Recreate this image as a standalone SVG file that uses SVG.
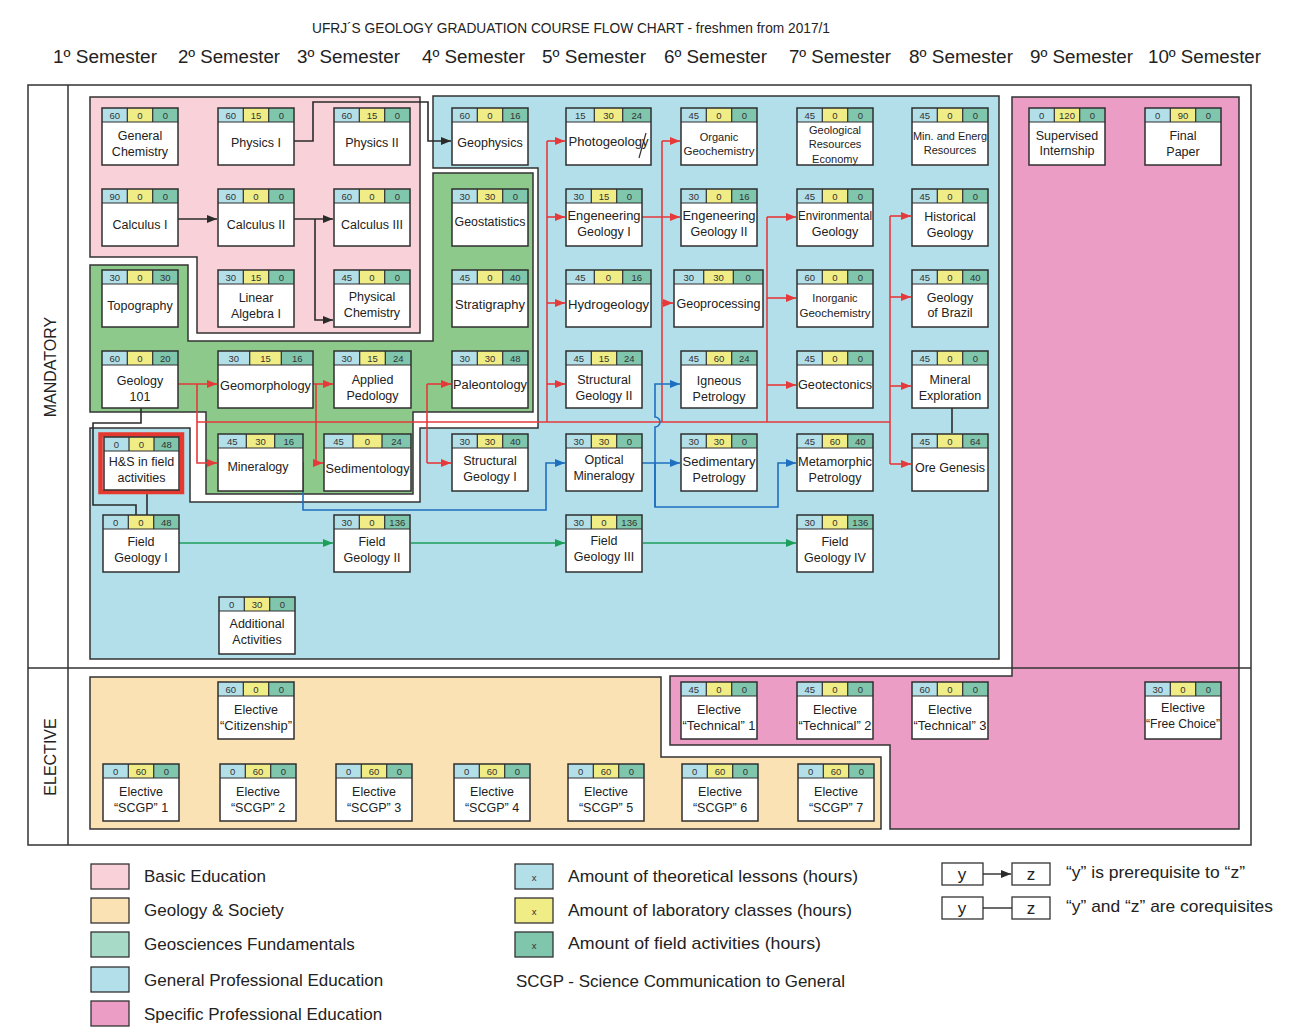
<svg xmlns="http://www.w3.org/2000/svg" width="1290" height="1032" viewBox="0 0 1290 1032">
<style>
.c1{fill:#b3dfe9}.c2{fill:#f0ec86}.c3{fill:#7fc6ad}
.bd{fill:#fff}
.fr{fill:none;stroke:#2f2f2f;stroke-width:1.5}
.sep{fill:none;stroke:#2f2f2f;stroke-width:1.2}
.num{font-family:"Liberation Sans",Arial,sans-serif;font-size:9.5px;fill:#333;text-anchor:middle}
.lb{font-family:"Liberation Sans",Arial,sans-serif;font-size:12.5px;fill:#222;text-anchor:middle}
.sm{font-size:11px}
.reg{stroke:#333;stroke-width:1.5}
.frame{fill:none;stroke:#333;stroke-width:1.5}
.k{stroke:#2b2b2b}.r{stroke:#e5393a}.b{stroke:#1f6fc0}.g{stroke:#1d9e5a}
.hd{font-family:"Liberation Sans",Arial,sans-serif;font-size:18px;fill:#222}
.lg{font-family:"Liberation Sans",Arial,sans-serif;font-size:17px;fill:#222}
.sw{stroke:#333;stroke-width:1.3}
</style>
<defs>
<marker id="ak" markerUnits="userSpaceOnUse" markerWidth="10" markerHeight="8" refX="10" refY="4" orient="auto"><path d="M0,0L10,4L0,8Z" fill="#2b2b2b"/></marker>
<marker id="ar" markerUnits="userSpaceOnUse" markerWidth="10" markerHeight="8" refX="10" refY="4" orient="auto"><path d="M0,0L10,4L0,8Z" fill="#e5393a"/></marker>
<marker id="ab" markerUnits="userSpaceOnUse" markerWidth="10" markerHeight="8" refX="10" refY="4" orient="auto"><path d="M0,0L10,4L0,8Z" fill="#1f6fc0"/></marker>
<marker id="ag" markerUnits="userSpaceOnUse" markerWidth="10" markerHeight="8" refX="10" refY="4" orient="auto"><path d="M0,0L10,4L0,8Z" fill="#1d9e5a"/></marker>
</defs>
<rect width="1290" height="1032" fill="#fff"/>
<text x="571" y="33" text-anchor="middle" font-family="Liberation Sans, Arial, sans-serif" font-size="15" fill="#222" textLength="518" lengthAdjust="spacingAndGlyphs">UFRJ´S GEOLOGY GRADUATION COURSE FLOW CHART - freshmen from 2017/1</text>
<g id="semesters">
<text class="hd" x="53" y="63" textLength="104" lengthAdjust="spacingAndGlyphs">1º Semester</text>
<text class="hd" x="178" y="63" textLength="102" lengthAdjust="spacingAndGlyphs">2º Semester</text>
<text class="hd" x="297" y="63" textLength="103" lengthAdjust="spacingAndGlyphs">3º Semester</text>
<text class="hd" x="422" y="63" textLength="103" lengthAdjust="spacingAndGlyphs">4º Semester</text>
<text class="hd" x="542" y="63" textLength="104" lengthAdjust="spacingAndGlyphs">5º Semester</text>
<text class="hd" x="664" y="63" textLength="103" lengthAdjust="spacingAndGlyphs">6º Semester</text>
<text class="hd" x="789" y="63" textLength="102" lengthAdjust="spacingAndGlyphs">7º Semester</text>
<text class="hd" x="909" y="63" textLength="104" lengthAdjust="spacingAndGlyphs">8º Semester</text>
<text class="hd" x="1030" y="63" textLength="103" lengthAdjust="spacingAndGlyphs">9º Semester</text>
<text class="hd" x="1148" y="63" textLength="113" lengthAdjust="spacingAndGlyphs">10º Semester</text>
</g>
<g id="regions">
<path id="reg-general-professional" class="reg" fill="#b3dfea" d="M433,96H999V659H90V428H190V502H420V428H538V168H433Z"/>
<path id="reg-basic" class="reg" fill="#f8d2d8" d="M90,97H420V333H197V257H90Z"/>
<path id="reg-geosciences" class="reg" fill="#8dc98b" d="M90,265H188V341H433V173H533V412H413V494H206V412H90Z"/>
<path id="reg-specific" class="reg" fill="#eb9dc6" d="M1012,97H1239V829H890V745H670V676H1012Z"/>
<path id="reg-society" class="reg" fill="#fbe2b4" d="M90,677H661V757H881V829H90Z"/>
</g>
<g id="frame">
<rect class="frame" x="28" y="85" width="1223" height="760"/>
<path class="frame" d="M28,668H1251M68,85V845"/>
<text transform="translate(56,367) rotate(-90)" text-anchor="middle" font-family="Liberation Sans, Arial, sans-serif" font-size="16" fill="#222">MANDATORY</text>
<text transform="translate(56,757) rotate(-90)" text-anchor="middle" font-family="Liberation Sans, Arial, sans-serif" font-size="16" fill="#222">ELECTIVE</text>
</g>
<g id="connectors" fill="none" stroke-width="1.6">
<path class="k" d="M294,141H313V102H428V141H451" marker-end="url(#ak)"/>
<path class="k" d="M178,219H217" marker-end="url(#ak)"/>
<path class="k" d="M294,219H333" marker-end="url(#ak)"/>
<path class="k" d="M315,219V320H333" marker-end="url(#ak)"/>
<path class="k" d="M952,408V433"/>
<path class="k" d="M147,490V515"/>
<path class="k" d="M141,408V423H93V505H136V515"/>
<path class="r" d="M197,422H890"/>
<path class="r" d="M178,384H217" marker-end="url(#ar)"/>
<path class="r" d="M197,384V463H217" marker-end="url(#ar)"/>
<path class="r" d="M313,384H333" marker-end="url(#ar)"/>
<path class="r" d="M316,384V463H323" marker-end="url(#ar)"/>
<path class="r" d="M427,384V463"/>
<path class="r" d="M427,384H451" marker-end="url(#ar)"/>
<path class="r" d="M427,463H451" marker-end="url(#ar)"/>
<path class="r" d="M547,141V422"/>
<path class="r" d="M547,141H565" marker-end="url(#ar)"/>
<path class="r" d="M547,217H565" marker-end="url(#ar)"/>
<path class="r" d="M547,303H565" marker-end="url(#ar)"/>
<path class="r" d="M547,384H565" marker-end="url(#ar)"/>
<path class="r" d="M642,217H680" marker-end="url(#ar)"/>
<path class="r" d="M662,141V422"/>
<path class="r" d="M662,141H680" marker-end="url(#ar)"/>
<path class="r" d="M662,303H673" marker-end="url(#ar)"/>
<path class="r" d="M767,217V422"/>
<path class="r" d="M767,217H796" marker-end="url(#ar)"/>
<path class="r" d="M767,298H796" marker-end="url(#ar)"/>
<path class="r" d="M767,385H796" marker-end="url(#ar)"/>
<path class="r" d="M890,216V464"/>
<path class="r" d="M890,216H911" marker-end="url(#ar)"/>
<path class="r" d="M890,297H911" marker-end="url(#ar)"/>
<path class="r" d="M890,386H911" marker-end="url(#ar)"/>
<path class="r" d="M890,464H911" marker-end="url(#ar)"/>
<path class="b" d="M296,463H303V510H546V463H565" marker-end="url(#ab)"/>
<path class="b" d="M642,463H680" marker-end="url(#ab)"/>
<path class="b" d="M655,507V427A5,5 0 0 0 655,417V384H680" marker-end="url(#ab)"/>
<path class="b" d="M655,463V507H778V463H796" marker-end="url(#ab)"/>
<path class="g" d="M179,543H333" marker-end="url(#ag)"/>
<path class="g" d="M411,543H565" marker-end="url(#ag)"/>
<path class="g" d="M643,543H796" marker-end="url(#ag)"/>
</g>
<rect x="100.5" y="434.5" width="81.5" height="57.5" fill="none" stroke="#e5392f" stroke-width="4.5"/>
<g id="nodes">
<g id="n-general-chemistry" transform="translate(102,108)"><rect class="c1" width="25.3" height="14"/><rect class="c2" x="25.3" width="25.4" height="14"/><rect class="c3" x="50.7" width="25.3" height="14"/><rect class="bd" y="14" width="76" height="43"/><path class="sep" d="M0,14H76M25.3,0V14M50.7,0V14"/><rect class="fr" width="76" height="57"/><text class="num" x="12.7" y="11">60</text><text class="num" x="38" y="11">0</text><text class="num" x="63.3" y="11">0</text><text class="lb" x="38" y="32">General</text><text class="lb" x="38" y="48">Chemistry</text></g>
<g id="n-physics-1" transform="translate(218,108)"><rect class="c1" width="25.3" height="14"/><rect class="c2" x="25.3" width="25.4" height="14"/><rect class="c3" x="50.7" width="25.3" height="14"/><rect class="bd" y="14" width="76" height="43"/><path class="sep" d="M0,14H76M25.3,0V14M50.7,0V14"/><rect class="fr" width="76" height="57"/><text class="num" x="12.7" y="11">60</text><text class="num" x="38" y="11">15</text><text class="num" x="63.3" y="11">0</text><text class="lb" x="38" y="39">Physics I</text></g>
<g id="n-physics-2" transform="translate(334,108)"><rect class="c1" width="25.3" height="14"/><rect class="c2" x="25.3" width="25.4" height="14"/><rect class="c3" x="50.7" width="25.3" height="14"/><rect class="bd" y="14" width="76" height="43"/><path class="sep" d="M0,14H76M25.3,0V14M50.7,0V14"/><rect class="fr" width="76" height="57"/><text class="num" x="12.7" y="11">60</text><text class="num" x="38" y="11">15</text><text class="num" x="63.3" y="11">0</text><text class="lb" x="38" y="39">Physics II</text></g>
<g id="n-geophysics" transform="translate(452,108)"><rect class="c1" width="25.3" height="14"/><rect class="c2" x="25.3" width="25.4" height="14"/><rect class="c3" x="50.7" width="25.3" height="14"/><rect class="bd" y="14" width="76" height="43"/><path class="sep" d="M0,14H76M25.3,0V14M50.7,0V14"/><rect class="fr" width="76" height="57"/><text class="num" x="12.7" y="11">60</text><text class="num" x="38" y="11">0</text><text class="num" x="63.3" y="11">16</text><text class="lb" x="38" y="39">Geophysics</text></g>
<g id="n-photogeology" transform="translate(566,108)"><rect class="c1" width="28.3" height="14"/><rect class="c2" x="28.3" width="28.4" height="14"/><rect class="c3" x="56.7" width="28.3" height="14"/><rect class="bd" y="14" width="85" height="43"/><path class="sep" d="M0,14H85M28.3,0V14M56.7,0V14"/><rect class="fr" width="85" height="57"/><text class="num" x="14.2" y="11">15</text><text class="num" x="42.5" y="11">30</text><text class="num" x="70.8" y="11">24</text><text class="lb" x="42.5" y="38" textLength="80" lengthAdjust="spacingAndGlyphs">Photogeology</text><path d="M73,50L80,25" stroke="#333" stroke-width="1.2" fill="none"/></g>
<g id="n-organic-geochemistry" transform="translate(681,108)"><rect class="c1" width="25.3" height="14"/><rect class="c2" x="25.3" width="25.4" height="14"/><rect class="c3" x="50.7" width="25.3" height="14"/><rect class="bd" y="14" width="76" height="43"/><path class="sep" d="M0,14H76M25.3,0V14M50.7,0V14"/><rect class="fr" width="76" height="57"/><text class="num" x="12.7" y="11">45</text><text class="num" x="38" y="11">0</text><text class="num" x="63.3" y="11">0</text><text class="lb sm" x="38" y="33">Organic</text><text class="lb sm" x="38" y="47" textLength="71" lengthAdjust="spacingAndGlyphs">Geochemistry</text></g>
<g id="n-geological-resources-economy" transform="translate(797,108)"><rect class="c1" width="25.3" height="14"/><rect class="c2" x="25.3" width="25.4" height="14"/><rect class="c3" x="50.7" width="25.3" height="14"/><rect class="bd" y="14" width="76" height="43"/><path class="sep" d="M0,14H76M25.3,0V14M50.7,0V14"/><rect class="fr" width="76" height="57"/><text class="num" x="12.7" y="11">45</text><text class="num" x="38" y="11">0</text><text class="num" x="63.3" y="11">0</text><text class="lb sm" x="38" y="26">Geological</text><text class="lb sm" x="38" y="40">Resources</text><text class="lb sm" x="38" y="55">Economy</text></g>
<g id="n-min-energ-resources" transform="translate(912,108)"><rect class="c1" width="25.3" height="14"/><rect class="c2" x="25.3" width="25.4" height="14"/><rect class="c3" x="50.7" width="25.3" height="14"/><rect class="bd" y="14" width="76" height="43"/><path class="sep" d="M0,14H76M25.3,0V14M50.7,0V14"/><rect class="fr" width="76" height="57"/><text class="num" x="12.7" y="11">45</text><text class="num" x="38" y="11">0</text><text class="num" x="63.3" y="11">0</text><text class="lb sm" x="38" y="32" textLength="74" lengthAdjust="spacingAndGlyphs">Min. and Energ</text><text class="lb sm" x="38" y="46">Resources</text></g>
<g id="n-supervised-internship" transform="translate(1029,108)"><rect class="c1" width="25.3" height="14"/><rect class="c2" x="25.3" width="25.4" height="14"/><rect class="c3" x="50.7" width="25.3" height="14"/><rect class="bd" y="14" width="76" height="43"/><path class="sep" d="M0,14H76M25.3,0V14M50.7,0V14"/><rect class="fr" width="76" height="57"/><text class="num" x="12.7" y="11">0</text><text class="num" x="38" y="11">120</text><text class="num" x="63.3" y="11">0</text><text class="lb" x="38" y="32">Supervised</text><text class="lb" x="38" y="47">Internship</text></g>
<g id="n-final-paper" transform="translate(1145,108)"><rect class="c1" width="25.3" height="14"/><rect class="c2" x="25.3" width="25.4" height="14"/><rect class="c3" x="50.7" width="25.3" height="14"/><rect class="bd" y="14" width="76" height="43"/><path class="sep" d="M0,14H76M25.3,0V14M50.7,0V14"/><rect class="fr" width="76" height="57"/><text class="num" x="12.7" y="11">0</text><text class="num" x="38" y="11">90</text><text class="num" x="63.3" y="11">0</text><text class="lb" x="38" y="32">Final</text><text class="lb" x="38" y="48">Paper</text></g>

<g id="n-calculus-1" transform="translate(102,189)"><rect class="c1" width="25.3" height="14"/><rect class="c2" x="25.3" width="25.4" height="14"/><rect class="c3" x="50.7" width="25.3" height="14"/><rect class="bd" y="14" width="76" height="43"/><path class="sep" d="M0,14H76M25.3,0V14M50.7,0V14"/><rect class="fr" width="76" height="57"/><text class="num" x="12.7" y="11">90</text><text class="num" x="38" y="11">0</text><text class="num" x="63.3" y="11">0</text><text class="lb" x="38" y="40">Calculus I</text></g>
<g id="n-calculus-2" transform="translate(218,189)"><rect class="c1" width="25.3" height="14"/><rect class="c2" x="25.3" width="25.4" height="14"/><rect class="c3" x="50.7" width="25.3" height="14"/><rect class="bd" y="14" width="76" height="43"/><path class="sep" d="M0,14H76M25.3,0V14M50.7,0V14"/><rect class="fr" width="76" height="57"/><text class="num" x="12.7" y="11">60</text><text class="num" x="38" y="11">0</text><text class="num" x="63.3" y="11">0</text><text class="lb" x="38" y="40">Calculus II</text></g>
<g id="n-calculus-3" transform="translate(334,189)"><rect class="c1" width="25.3" height="14"/><rect class="c2" x="25.3" width="25.4" height="14"/><rect class="c3" x="50.7" width="25.3" height="14"/><rect class="bd" y="14" width="76" height="43"/><path class="sep" d="M0,14H76M25.3,0V14M50.7,0V14"/><rect class="fr" width="76" height="57"/><text class="num" x="12.7" y="11">60</text><text class="num" x="38" y="11">0</text><text class="num" x="63.3" y="11">0</text><text class="lb" x="38" y="40">Calculus III</text></g>
<g id="n-geostatistics" transform="translate(452,189)"><rect class="c1" width="25.3" height="14"/><rect class="c2" x="25.3" width="25.4" height="14"/><rect class="c3" x="50.7" width="25.3" height="14"/><rect class="bd" y="14" width="76" height="43"/><path class="sep" d="M0,14H76M25.3,0V14M50.7,0V14"/><rect class="fr" width="76" height="57"/><text class="num" x="12.7" y="11">30</text><text class="num" x="38" y="11">30</text><text class="num" x="63.3" y="11">0</text><text class="lb" x="38" y="37" textLength="71" lengthAdjust="spacingAndGlyphs">Geostatistics</text></g>
<g id="n-eng-geology-1" transform="translate(566,189)"><rect class="c1" width="25.3" height="14"/><rect class="c2" x="25.3" width="25.4" height="14"/><rect class="c3" x="50.7" width="25.3" height="14"/><rect class="bd" y="14" width="76" height="43"/><path class="sep" d="M0,14H76M25.3,0V14M50.7,0V14"/><rect class="fr" width="76" height="57"/><text class="num" x="12.7" y="11">30</text><text class="num" x="38" y="11">15</text><text class="num" x="63.3" y="11">0</text><text class="lb" x="38" y="31" textLength="73" lengthAdjust="spacingAndGlyphs">Engeneering</text><text class="lb" x="38" y="47">Geology I</text></g>
<g id="n-eng-geology-2" transform="translate(681,189)"><rect class="c1" width="25.3" height="14"/><rect class="c2" x="25.3" width="25.4" height="14"/><rect class="c3" x="50.7" width="25.3" height="14"/><rect class="bd" y="14" width="76" height="43"/><path class="sep" d="M0,14H76M25.3,0V14M50.7,0V14"/><rect class="fr" width="76" height="57"/><text class="num" x="12.7" y="11">30</text><text class="num" x="38" y="11">0</text><text class="num" x="63.3" y="11">16</text><text class="lb" x="38" y="31" textLength="73" lengthAdjust="spacingAndGlyphs">Engeneering</text><text class="lb" x="38" y="47">Geology II</text></g>
<g id="n-environmental-geology" transform="translate(797,189)"><rect class="c1" width="25.3" height="14"/><rect class="c2" x="25.3" width="25.4" height="14"/><rect class="c3" x="50.7" width="25.3" height="14"/><rect class="bd" y="14" width="76" height="43"/><path class="sep" d="M0,14H76M25.3,0V14M50.7,0V14"/><rect class="fr" width="76" height="57"/><text class="num" x="12.7" y="11">45</text><text class="num" x="38" y="11">0</text><text class="num" x="63.3" y="11">0</text><text class="lb" x="38" y="31" textLength="74" lengthAdjust="spacingAndGlyphs">Environmental</text><text class="lb" x="38" y="47">Geology</text></g>
<g id="n-historical-geology" transform="translate(912,189)"><rect class="c1" width="25.3" height="14"/><rect class="c2" x="25.3" width="25.4" height="14"/><rect class="c3" x="50.7" width="25.3" height="14"/><rect class="bd" y="14" width="76" height="43"/><path class="sep" d="M0,14H76M25.3,0V14M50.7,0V14"/><rect class="fr" width="76" height="57"/><text class="num" x="12.7" y="11">45</text><text class="num" x="38" y="11">0</text><text class="num" x="63.3" y="11">0</text><text class="lb" x="38" y="32">Historical</text><text class="lb" x="38" y="48">Geology</text></g>

<g id="n-topography" transform="translate(102,270)"><rect class="c1" width="25.3" height="14"/><rect class="c2" x="25.3" width="25.4" height="14"/><rect class="c3" x="50.7" width="25.3" height="14"/><rect class="bd" y="14" width="76" height="43"/><path class="sep" d="M0,14H76M25.3,0V14M50.7,0V14"/><rect class="fr" width="76" height="57"/><text class="num" x="12.7" y="11">30</text><text class="num" x="38" y="11">0</text><text class="num" x="63.3" y="11">30</text><text class="lb" x="38" y="40">Topography</text></g>
<g id="n-linear-algebra-1" transform="translate(218,270)"><rect class="c1" width="25.3" height="14"/><rect class="c2" x="25.3" width="25.4" height="14"/><rect class="c3" x="50.7" width="25.3" height="14"/><rect class="bd" y="14" width="76" height="43"/><path class="sep" d="M0,14H76M25.3,0V14M50.7,0V14"/><rect class="fr" width="76" height="57"/><text class="num" x="12.7" y="11">30</text><text class="num" x="38" y="11">15</text><text class="num" x="63.3" y="11">0</text><text class="lb" x="38" y="32">Linear</text><text class="lb" x="38" y="48">Algebra I</text></g>
<g id="n-physical-chemistry" transform="translate(334,270)"><rect class="c1" width="25.3" height="14"/><rect class="c2" x="25.3" width="25.4" height="14"/><rect class="c3" x="50.7" width="25.3" height="14"/><rect class="bd" y="14" width="76" height="43"/><path class="sep" d="M0,14H76M25.3,0V14M50.7,0V14"/><rect class="fr" width="76" height="57"/><text class="num" x="12.7" y="11">45</text><text class="num" x="38" y="11">0</text><text class="num" x="63.3" y="11">0</text><text class="lb" x="38" y="31">Physical</text><text class="lb" x="38" y="47">Chemistry</text></g>
<g id="n-stratigraphy" transform="translate(452,270)"><rect class="c1" width="25.3" height="14"/><rect class="c2" x="25.3" width="25.4" height="14"/><rect class="c3" x="50.7" width="25.3" height="14"/><rect class="bd" y="14" width="76" height="43"/><path class="sep" d="M0,14H76M25.3,0V14M50.7,0V14"/><rect class="fr" width="76" height="57"/><text class="num" x="12.7" y="11">45</text><text class="num" x="38" y="11">0</text><text class="num" x="63.3" y="11">40</text><text class="lb" x="38" y="39" textLength="70" lengthAdjust="spacingAndGlyphs">Stratigraphy</text></g>
<g id="n-hydrogeology" transform="translate(566,270)"><rect class="c1" width="28.3" height="14"/><rect class="c2" x="28.3" width="28.4" height="14"/><rect class="c3" x="56.7" width="28.3" height="14"/><rect class="bd" y="14" width="85" height="43"/><path class="sep" d="M0,14H85M28.3,0V14M56.7,0V14"/><rect class="fr" width="85" height="57"/><text class="num" x="14.2" y="11">45</text><text class="num" x="42.5" y="11">0</text><text class="num" x="70.8" y="11">16</text><text class="lb" x="42.5" y="39" textLength="81" lengthAdjust="spacingAndGlyphs">Hydrogeology</text></g>
<g id="n-geoprocessing" transform="translate(674,270)"><rect class="c1" width="29.7" height="14"/><rect class="c2" x="29.7" width="29.6" height="14"/><rect class="c3" x="59.3" width="29.7" height="14"/><rect class="bd" y="14" width="89" height="43"/><path class="sep" d="M0,14H89M29.7,0V14M59.3,0V14"/><rect class="fr" width="89" height="57"/><text class="num" x="14.8" y="11">30</text><text class="num" x="44.5" y="11">30</text><text class="num" x="74.2" y="11">0</text><text class="lb" x="44.5" y="38" textLength="84" lengthAdjust="spacingAndGlyphs">Geoprocessing</text></g>
<g id="n-inorganic-geochemistry" transform="translate(797,270)"><rect class="c1" width="25.3" height="14"/><rect class="c2" x="25.3" width="25.4" height="14"/><rect class="c3" x="50.7" width="25.3" height="14"/><rect class="bd" y="14" width="76" height="43"/><path class="sep" d="M0,14H76M25.3,0V14M50.7,0V14"/><rect class="fr" width="76" height="57"/><text class="num" x="12.7" y="11">60</text><text class="num" x="38" y="11">0</text><text class="num" x="63.3" y="11">0</text><text class="lb sm" x="38" y="32">Inorganic</text><text class="lb sm" x="38" y="47" textLength="71" lengthAdjust="spacingAndGlyphs">Geochemistry</text></g>
<g id="n-geology-of-brazil" transform="translate(912,270)"><rect class="c1" width="25.3" height="14"/><rect class="c2" x="25.3" width="25.4" height="14"/><rect class="c3" x="50.7" width="25.3" height="14"/><rect class="bd" y="14" width="76" height="43"/><path class="sep" d="M0,14H76M25.3,0V14M50.7,0V14"/><rect class="fr" width="76" height="57"/><text class="num" x="12.7" y="11">45</text><text class="num" x="38" y="11">0</text><text class="num" x="63.3" y="11">40</text><text class="lb" x="38" y="32">Geology</text><text class="lb" x="38" y="47">of Brazil</text></g>

<g id="n-geology-101" transform="translate(102,351)"><rect class="c1" width="25.3" height="14"/><rect class="c2" x="25.3" width="25.4" height="14"/><rect class="c3" x="50.7" width="25.3" height="14"/><rect class="bd" y="14" width="76" height="43"/><path class="sep" d="M0,14H76M25.3,0V14M50.7,0V14"/><rect class="fr" width="76" height="57"/><text class="num" x="12.7" y="11">60</text><text class="num" x="38" y="11">0</text><text class="num" x="63.3" y="11">20</text><text class="lb" x="38" y="34">Geology</text><text class="lb" x="38" y="50">101</text></g>
<g id="n-geomorphology" transform="translate(218,351)"><rect class="c1" width="31.7" height="14"/><rect class="c2" x="31.7" width="31.6" height="14"/><rect class="c3" x="63.3" width="31.7" height="14"/><rect class="bd" y="14" width="95" height="43"/><path class="sep" d="M0,14H95M31.7,0V14M63.3,0V14"/><rect class="fr" width="95" height="57"/><text class="num" x="15.8" y="11">30</text><text class="num" x="47.5" y="11">15</text><text class="num" x="79.2" y="11">16</text><text class="lb" x="47.5" y="39" textLength="91" lengthAdjust="spacingAndGlyphs">Geomorphology</text></g>
<g id="n-applied-pedology" transform="translate(334,351)"><rect class="c1" width="25.7" height="14"/><rect class="c2" x="25.7" width="25.6" height="14"/><rect class="c3" x="51.3" width="25.7" height="14"/><rect class="bd" y="14" width="77" height="43"/><path class="sep" d="M0,14H77M25.7,0V14M51.3,0V14"/><rect class="fr" width="77" height="57"/><text class="num" x="12.8" y="11">30</text><text class="num" x="38.5" y="11">15</text><text class="num" x="64.2" y="11">24</text><text class="lb" x="38.5" y="33">Applied</text><text class="lb" x="38.5" y="49">Pedology</text></g>
<g id="n-paleontology" transform="translate(452,351)"><rect class="c1" width="25.3" height="14"/><rect class="c2" x="25.3" width="25.4" height="14"/><rect class="c3" x="50.7" width="25.3" height="14"/><rect class="bd" y="14" width="76" height="43"/><path class="sep" d="M0,14H76M25.3,0V14M50.7,0V14"/><rect class="fr" width="76" height="57"/><text class="num" x="12.7" y="11">30</text><text class="num" x="38" y="11">30</text><text class="num" x="63.3" y="11">48</text><text class="lb" x="38" y="38" textLength="74" lengthAdjust="spacingAndGlyphs">Paleontology</text></g>
<g id="n-structural-geology-2" transform="translate(566,351)"><rect class="c1" width="25.3" height="14"/><rect class="c2" x="25.3" width="25.4" height="14"/><rect class="c3" x="50.7" width="25.3" height="14"/><rect class="bd" y="14" width="76" height="43"/><path class="sep" d="M0,14H76M25.3,0V14M50.7,0V14"/><rect class="fr" width="76" height="57"/><text class="num" x="12.7" y="11">45</text><text class="num" x="38" y="11">15</text><text class="num" x="63.3" y="11">24</text><text class="lb" x="38" y="33">Structural</text><text class="lb" x="38" y="49">Geology II</text></g>
<g id="n-igneous-petrology" transform="translate(681,351)"><rect class="c1" width="25.3" height="14"/><rect class="c2" x="25.3" width="25.4" height="14"/><rect class="c3" x="50.7" width="25.3" height="14"/><rect class="bd" y="14" width="76" height="43"/><path class="sep" d="M0,14H76M25.3,0V14M50.7,0V14"/><rect class="fr" width="76" height="57"/><text class="num" x="12.7" y="11">45</text><text class="num" x="38" y="11">60</text><text class="num" x="63.3" y="11">24</text><text class="lb" x="38" y="34">Igneous</text><text class="lb" x="38" y="50">Petrology</text></g>
<g id="n-geotectonics" transform="translate(797,351)"><rect class="c1" width="25.3" height="14"/><rect class="c2" x="25.3" width="25.4" height="14"/><rect class="c3" x="50.7" width="25.3" height="14"/><rect class="bd" y="14" width="76" height="43"/><path class="sep" d="M0,14H76M25.3,0V14M50.7,0V14"/><rect class="fr" width="76" height="57"/><text class="num" x="12.7" y="11">45</text><text class="num" x="38" y="11">0</text><text class="num" x="63.3" y="11">0</text><text class="lb" x="38" y="38" textLength="74" lengthAdjust="spacingAndGlyphs">Geotectonics</text></g>
<g id="n-mineral-exploration" transform="translate(912,351)"><rect class="c1" width="25.3" height="14"/><rect class="c2" x="25.3" width="25.4" height="14"/><rect class="c3" x="50.7" width="25.3" height="14"/><rect class="bd" y="14" width="76" height="43"/><path class="sep" d="M0,14H76M25.3,0V14M50.7,0V14"/><rect class="fr" width="76" height="57"/><text class="num" x="12.7" y="11">45</text><text class="num" x="38" y="11">0</text><text class="num" x="63.3" y="11">0</text><text class="lb" x="38" y="33">Mineral</text><text class="lb" x="38" y="49">Exploration</text></g>

<g id="n-hs-field-activities" transform="translate(104,437)"><rect class="c1" width="25" height="14"/><rect class="c2" x="25" width="25" height="14"/><rect class="c3" x="50" width="25" height="14"/><rect class="bd" y="14" width="75" height="39"/><path class="sep" d="M0,14H75M25,0V14M50,0V14"/><rect class="fr" width="75" height="53"/><text class="num" x="12.5" y="11">0</text><text class="num" x="37.5" y="11">0</text><text class="num" x="62.5" y="11">48</text><text class="lb" x="37.5" y="29">H&amp;S in field</text><text class="lb" x="37.5" y="45">activities</text></g>
<g id="n-mineralogy" transform="translate(218,434)"><rect class="c1" width="28.3" height="14"/><rect class="c2" x="28.3" width="28.4" height="14"/><rect class="c3" x="56.7" width="28.3" height="14"/><rect class="bd" y="14" width="85" height="43"/><path class="sep" d="M0,14H85M28.3,0V14M56.7,0V14"/><rect class="fr" width="85" height="57"/><text class="num" x="14.2" y="11">45</text><text class="num" x="42.5" y="11">30</text><text class="num" x="70.8" y="11">16</text><text class="lb" x="40" y="37">Mineralogy</text></g>
<g id="n-sedimentology" transform="translate(324,434)"><rect class="c1" width="29" height="14"/><rect class="c2" x="29" width="29" height="14"/><rect class="c3" x="58" width="29" height="14"/><rect class="bd" y="14" width="87" height="43"/><path class="sep" d="M0,14H87M29,0V14M58,0V14"/><rect class="fr" width="87" height="57"/><text class="num" x="14.5" y="11">45</text><text class="num" x="43.5" y="11">0</text><text class="num" x="72.5" y="11">24</text><text class="lb" x="43.5" y="39" textLength="84" lengthAdjust="spacingAndGlyphs">Sedimentology</text></g>
<g id="n-structural-geology-1" transform="translate(452,434)"><rect class="c1" width="25.3" height="14"/><rect class="c2" x="25.3" width="25.4" height="14"/><rect class="c3" x="50.7" width="25.3" height="14"/><rect class="bd" y="14" width="76" height="43"/><path class="sep" d="M0,14H76M25.3,0V14M50.7,0V14"/><rect class="fr" width="76" height="57"/><text class="num" x="12.7" y="11">30</text><text class="num" x="38" y="11">30</text><text class="num" x="63.3" y="11">40</text><text class="lb" x="38" y="31">Structural</text><text class="lb" x="38" y="47">Geology I</text></g>
<g id="n-optical-mineralogy" transform="translate(566,434)"><rect class="c1" width="25.3" height="14"/><rect class="c2" x="25.3" width="25.4" height="14"/><rect class="c3" x="50.7" width="25.3" height="14"/><rect class="bd" y="14" width="76" height="43"/><path class="sep" d="M0,14H76M25.3,0V14M50.7,0V14"/><rect class="fr" width="76" height="57"/><text class="num" x="12.7" y="11">30</text><text class="num" x="38" y="11">30</text><text class="num" x="63.3" y="11">0</text><text class="lb" x="38" y="30">Optical</text><text class="lb" x="38" y="46">Mineralogy</text></g>
<g id="n-sedimentary-petrology" transform="translate(681,434)"><rect class="c1" width="25.3" height="14"/><rect class="c2" x="25.3" width="25.4" height="14"/><rect class="c3" x="50.7" width="25.3" height="14"/><rect class="bd" y="14" width="76" height="43"/><path class="sep" d="M0,14H76M25.3,0V14M50.7,0V14"/><rect class="fr" width="76" height="57"/><text class="num" x="12.7" y="11">30</text><text class="num" x="38" y="11">30</text><text class="num" x="63.3" y="11">0</text><text class="lb" x="38" y="32" textLength="73" lengthAdjust="spacingAndGlyphs">Sedimentary</text><text class="lb" x="38" y="48">Petrology</text></g>
<g id="n-metamorphic-petrology" transform="translate(797,434)"><rect class="c1" width="25.3" height="14"/><rect class="c2" x="25.3" width="25.4" height="14"/><rect class="c3" x="50.7" width="25.3" height="14"/><rect class="bd" y="14" width="76" height="43"/><path class="sep" d="M0,14H76M25.3,0V14M50.7,0V14"/><rect class="fr" width="76" height="57"/><text class="num" x="12.7" y="11">45</text><text class="num" x="38" y="11">60</text><text class="num" x="63.3" y="11">40</text><text class="lb" x="38" y="32" textLength="74" lengthAdjust="spacingAndGlyphs">Metamorphic</text><text class="lb" x="38" y="48">Petrology</text></g>
<g id="n-ore-genesis" transform="translate(912,434)"><rect class="c1" width="25.3" height="14"/><rect class="c2" x="25.3" width="25.4" height="14"/><rect class="c3" x="50.7" width="25.3" height="14"/><rect class="bd" y="14" width="76" height="43"/><path class="sep" d="M0,14H76M25.3,0V14M50.7,0V14"/><rect class="fr" width="76" height="57"/><text class="num" x="12.7" y="11">45</text><text class="num" x="38" y="11">0</text><text class="num" x="63.3" y="11">64</text><text class="lb" x="38" y="38">Ore Genesis</text></g>

<g id="n-field-geology-1" transform="translate(103,515)"><rect class="c1" width="25.3" height="14"/><rect class="c2" x="25.3" width="25.4" height="14"/><rect class="c3" x="50.7" width="25.3" height="14"/><rect class="bd" y="14" width="76" height="43"/><path class="sep" d="M0,14H76M25.3,0V14M50.7,0V14"/><rect class="fr" width="76" height="57"/><text class="num" x="12.7" y="11">0</text><text class="num" x="38" y="11">0</text><text class="num" x="63.3" y="11">48</text><text class="lb" x="38" y="31">Field</text><text class="lb" x="38" y="47">Geology I</text></g>
<g id="n-field-geology-2" transform="translate(334,515)"><rect class="c1" width="25.3" height="14"/><rect class="c2" x="25.3" width="25.4" height="14"/><rect class="c3" x="50.7" width="25.3" height="14"/><rect class="bd" y="14" width="76" height="43"/><path class="sep" d="M0,14H76M25.3,0V14M50.7,0V14"/><rect class="fr" width="76" height="57"/><text class="num" x="12.7" y="11">30</text><text class="num" x="38" y="11">0</text><text class="num" x="63.3" y="11">136</text><text class="lb" x="38" y="31">Field</text><text class="lb" x="38" y="47">Geology II</text></g>
<g id="n-field-geology-3" transform="translate(566,515)"><rect class="c1" width="25.3" height="14"/><rect class="c2" x="25.3" width="25.4" height="14"/><rect class="c3" x="50.7" width="25.3" height="14"/><rect class="bd" y="14" width="76" height="43"/><path class="sep" d="M0,14H76M25.3,0V14M50.7,0V14"/><rect class="fr" width="76" height="57"/><text class="num" x="12.7" y="11">30</text><text class="num" x="38" y="11">0</text><text class="num" x="63.3" y="11">136</text><text class="lb" x="38" y="30">Field</text><text class="lb" x="38" y="46">Geology III</text></g>
<g id="n-field-geology-4" transform="translate(797,515)"><rect class="c1" width="25.3" height="14"/><rect class="c2" x="25.3" width="25.4" height="14"/><rect class="c3" x="50.7" width="25.3" height="14"/><rect class="bd" y="14" width="76" height="43"/><path class="sep" d="M0,14H76M25.3,0V14M50.7,0V14"/><rect class="fr" width="76" height="57"/><text class="num" x="12.7" y="11">30</text><text class="num" x="38" y="11">0</text><text class="num" x="63.3" y="11">136</text><text class="lb" x="38" y="31">Field</text><text class="lb" x="38" y="47">Geology IV</text></g>
<g id="n-additional-activities" transform="translate(219,597)"><rect class="c1" width="25.3" height="14"/><rect class="c2" x="25.3" width="25.4" height="14"/><rect class="c3" x="50.7" width="25.3" height="14"/><rect class="bd" y="14" width="76" height="43"/><path class="sep" d="M0,14H76M25.3,0V14M50.7,0V14"/><rect class="fr" width="76" height="57"/><text class="num" x="12.7" y="11">0</text><text class="num" x="38" y="11">30</text><text class="num" x="63.3" y="11">0</text><text class="lb" x="38" y="31">Additional</text><text class="lb" x="38" y="47">Activities</text></g>

<g id="n-elective-citizenship" transform="translate(218,682)"><rect class="c1" width="25.3" height="14"/><rect class="c2" x="25.3" width="25.4" height="14"/><rect class="c3" x="50.7" width="25.3" height="14"/><rect class="bd" y="14" width="76" height="43"/><path class="sep" d="M0,14H76M25.3,0V14M50.7,0V14"/><rect class="fr" width="76" height="57"/><text class="num" x="12.7" y="11">60</text><text class="num" x="38" y="11">0</text><text class="num" x="63.3" y="11">0</text><text class="lb" x="38" y="32">Elective</text><text class="lb" x="38" y="48" textLength="72" lengthAdjust="spacingAndGlyphs">“Citizenship”</text></g>
<g id="n-elective-technical-1" transform="translate(681,682)"><rect class="c1" width="25.3" height="14"/><rect class="c2" x="25.3" width="25.4" height="14"/><rect class="c3" x="50.7" width="25.3" height="14"/><rect class="bd" y="14" width="76" height="43"/><path class="sep" d="M0,14H76M25.3,0V14M50.7,0V14"/><rect class="fr" width="76" height="57"/><text class="num" x="12.7" y="11">45</text><text class="num" x="38" y="11">0</text><text class="num" x="63.3" y="11">0</text><text class="lb" x="38" y="32">Elective</text><text class="lb" x="38" y="48" textLength="73" lengthAdjust="spacingAndGlyphs">“Technical” 1</text></g>
<g id="n-elective-technical-2" transform="translate(797,682)"><rect class="c1" width="25.3" height="14"/><rect class="c2" x="25.3" width="25.4" height="14"/><rect class="c3" x="50.7" width="25.3" height="14"/><rect class="bd" y="14" width="76" height="43"/><path class="sep" d="M0,14H76M25.3,0V14M50.7,0V14"/><rect class="fr" width="76" height="57"/><text class="num" x="12.7" y="11">45</text><text class="num" x="38" y="11">0</text><text class="num" x="63.3" y="11">0</text><text class="lb" x="38" y="32">Elective</text><text class="lb" x="38" y="48" textLength="73" lengthAdjust="spacingAndGlyphs">“Technical” 2</text></g>
<g id="n-elective-technical-3" transform="translate(912,682)"><rect class="c1" width="25.3" height="14"/><rect class="c2" x="25.3" width="25.4" height="14"/><rect class="c3" x="50.7" width="25.3" height="14"/><rect class="bd" y="14" width="76" height="43"/><path class="sep" d="M0,14H76M25.3,0V14M50.7,0V14"/><rect class="fr" width="76" height="57"/><text class="num" x="12.7" y="11">60</text><text class="num" x="38" y="11">0</text><text class="num" x="63.3" y="11">0</text><text class="lb" x="38" y="32">Elective</text><text class="lb" x="38" y="48" textLength="73" lengthAdjust="spacingAndGlyphs">“Technical” 3</text></g>
<g id="n-elective-free-choice" transform="translate(1145,682)"><rect class="c1" width="25.3" height="14"/><rect class="c2" x="25.3" width="25.4" height="14"/><rect class="c3" x="50.7" width="25.3" height="14"/><rect class="bd" y="14" width="76" height="43"/><path class="sep" d="M0,14H76M25.3,0V14M50.7,0V14"/><rect class="fr" width="76" height="57"/><text class="num" x="12.7" y="11">30</text><text class="num" x="38" y="11">0</text><text class="num" x="63.3" y="11">0</text><text class="lb" x="38" y="30">Elective</text><text class="lb" x="38" y="46" textLength="74" lengthAdjust="spacingAndGlyphs">“Free Choice”</text></g>

<g id="n-elective-scgp-1" transform="translate(103,764)"><rect class="c1" width="25.3" height="14"/><rect class="c2" x="25.3" width="25.4" height="14"/><rect class="c3" x="50.7" width="25.3" height="14"/><rect class="bd" y="14" width="76" height="43"/><path class="sep" d="M0,14H76M25.3,0V14M50.7,0V14"/><rect class="fr" width="76" height="57"/><text class="num" x="12.7" y="11">0</text><text class="num" x="38" y="11">60</text><text class="num" x="63.3" y="11">0</text><text class="lb" x="38" y="32">Elective</text><text class="lb" x="38" y="48">“SCGP” 1</text></g>
<g id="n-elective-scgp-2" transform="translate(220,764)"><rect class="c1" width="25.3" height="14"/><rect class="c2" x="25.3" width="25.4" height="14"/><rect class="c3" x="50.7" width="25.3" height="14"/><rect class="bd" y="14" width="76" height="43"/><path class="sep" d="M0,14H76M25.3,0V14M50.7,0V14"/><rect class="fr" width="76" height="57"/><text class="num" x="12.7" y="11">0</text><text class="num" x="38" y="11">60</text><text class="num" x="63.3" y="11">0</text><text class="lb" x="38" y="32">Elective</text><text class="lb" x="38" y="48">“SCGP” 2</text></g>
<g id="n-elective-scgp-3" transform="translate(336,764)"><rect class="c1" width="25.3" height="14"/><rect class="c2" x="25.3" width="25.4" height="14"/><rect class="c3" x="50.7" width="25.3" height="14"/><rect class="bd" y="14" width="76" height="43"/><path class="sep" d="M0,14H76M25.3,0V14M50.7,0V14"/><rect class="fr" width="76" height="57"/><text class="num" x="12.7" y="11">0</text><text class="num" x="38" y="11">60</text><text class="num" x="63.3" y="11">0</text><text class="lb" x="38" y="32">Elective</text><text class="lb" x="38" y="48">“SCGP” 3</text></g>
<g id="n-elective-scgp-4" transform="translate(454,764)"><rect class="c1" width="25.3" height="14"/><rect class="c2" x="25.3" width="25.4" height="14"/><rect class="c3" x="50.7" width="25.3" height="14"/><rect class="bd" y="14" width="76" height="43"/><path class="sep" d="M0,14H76M25.3,0V14M50.7,0V14"/><rect class="fr" width="76" height="57"/><text class="num" x="12.7" y="11">0</text><text class="num" x="38" y="11">60</text><text class="num" x="63.3" y="11">0</text><text class="lb" x="38" y="32">Elective</text><text class="lb" x="38" y="48">“SCGP” 4</text></g>
<g id="n-elective-scgp-5" transform="translate(568,764)"><rect class="c1" width="25.3" height="14"/><rect class="c2" x="25.3" width="25.4" height="14"/><rect class="c3" x="50.7" width="25.3" height="14"/><rect class="bd" y="14" width="76" height="43"/><path class="sep" d="M0,14H76M25.3,0V14M50.7,0V14"/><rect class="fr" width="76" height="57"/><text class="num" x="12.7" y="11">0</text><text class="num" x="38" y="11">60</text><text class="num" x="63.3" y="11">0</text><text class="lb" x="38" y="32">Elective</text><text class="lb" x="38" y="48">“SCGP” 5</text></g>
<g id="n-elective-scgp-6" transform="translate(682,764)"><rect class="c1" width="25.3" height="14"/><rect class="c2" x="25.3" width="25.4" height="14"/><rect class="c3" x="50.7" width="25.3" height="14"/><rect class="bd" y="14" width="76" height="43"/><path class="sep" d="M0,14H76M25.3,0V14M50.7,0V14"/><rect class="fr" width="76" height="57"/><text class="num" x="12.7" y="11">0</text><text class="num" x="38" y="11">60</text><text class="num" x="63.3" y="11">0</text><text class="lb" x="38" y="32">Elective</text><text class="lb" x="38" y="48">“SCGP” 6</text></g>
<g id="n-elective-scgp-7" transform="translate(798,764)"><rect class="c1" width="25.3" height="14"/><rect class="c2" x="25.3" width="25.4" height="14"/><rect class="c3" x="50.7" width="25.3" height="14"/><rect class="bd" y="14" width="76" height="43"/><path class="sep" d="M0,14H76M25.3,0V14M50.7,0V14"/><rect class="fr" width="76" height="57"/><text class="num" x="12.7" y="11">0</text><text class="num" x="38" y="11">60</text><text class="num" x="63.3" y="11">0</text><text class="lb" x="38" y="32">Elective</text><text class="lb" x="38" y="48">“SCGP” 7</text></g>
</g>
<g id="legend">
<rect class="sw" x="91" y="864" width="38" height="25" fill="#f8d2d8"/>
<rect class="sw" x="91" y="898" width="38" height="25" fill="#fbe2b4"/>
<rect class="sw" x="91" y="932" width="38" height="25" fill="#a8dac8"/>
<rect class="sw" x="91" y="967" width="38" height="25" fill="#b3dfea"/>
<rect class="sw" x="91" y="1001" width="38" height="25" fill="#eb9dc6"/>
<text class="lg" x="144" y="882">Basic Education</text>
<text class="lg" x="144" y="916">Geology &amp; Society</text>
<text class="lg" x="144" y="950">Geosciences Fundamentals</text>
<text class="lg" x="144" y="986">General Professional Education</text>
<text class="lg" x="144" y="1020">Specific Professional Education</text>
<rect class="sw" x="515" y="864" width="38" height="25" fill="#b3dfe9"/>
<rect class="sw" x="515" y="898" width="38" height="25" fill="#f0ec86"/>
<rect class="sw" x="515" y="932" width="38" height="25" fill="#7fc6ad"/>
<text class="num" x="534" y="881">x</text>
<text class="num" x="534" y="915">x</text>
<text class="num" x="534" y="949">x</text>
<text class="lg" x="568" y="882" textLength="290" lengthAdjust="spacingAndGlyphs">Amount of theoretical lessons (hours)</text>
<text class="lg" x="568" y="916" textLength="284" lengthAdjust="spacingAndGlyphs">Amount of laboratory classes (hours)</text>
<text class="lg" x="568" y="949" textLength="253" lengthAdjust="spacingAndGlyphs">Amount of field activities (hours)</text>
<text class="lg" x="516" y="987" textLength="329" lengthAdjust="spacingAndGlyphs">SCGP - Science Communication to General</text>
<rect class="sw" x="942" y="863" width="41" height="22" fill="#fff"/>
<rect class="sw" x="1012" y="863" width="38" height="22" fill="#fff"/>
<path d="M983,874H1011" stroke="#2b2b2b" stroke-width="1.4" fill="none" marker-end="url(#ak)"/>
<text class="lg" x="962" y="880" text-anchor="middle" font-size="14">y</text>
<text class="lg" x="1031" y="880" text-anchor="middle" font-size="14">z</text>
<rect class="sw" x="942" y="897" width="41" height="22" fill="#fff"/>
<rect class="sw" x="1012" y="897" width="38" height="22" fill="#fff"/>
<path d="M983,908H1012" stroke="#2b2b2b" stroke-width="1.4" fill="none"/>
<text class="lg" x="962" y="914" text-anchor="middle" font-size="14">y</text>
<text class="lg" x="1031" y="914" text-anchor="middle" font-size="14">z</text>
<text class="lg" x="1066" y="878" textLength="179" lengthAdjust="spacingAndGlyphs">“y” is prerequisite to “z”</text>
<text class="lg" x="1066" y="912" textLength="207" lengthAdjust="spacingAndGlyphs">“y” and  “z” are corequisites</text>
</g>
</svg>
